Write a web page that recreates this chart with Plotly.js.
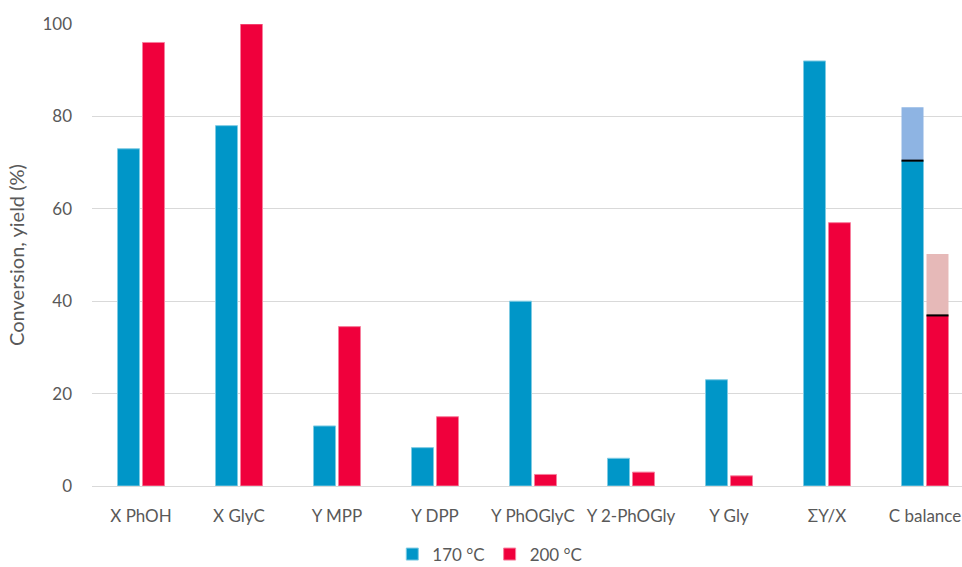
<!DOCTYPE html>
<html>
<head>
<meta charset="utf-8">
<script src="https://cdn.plot.ly/plotly-3.0.1.min.js"></script>
<style>
  html, body { margin: 0; padding: 0; overflow: hidden; background: #fff; }
  #chart { width: 980px; height: 567px; }
</style>
</head>
<body>
<div id="chart"></div>
<script>
// Categories along the x axis
const categories = ["X PhOH", "X GlyC", "Y MPP", "Y DPP", "Y PhOGlyC", "Y 2-PhOGly", "Y Gly", "ΣY/X", "C balance"];

// Conversion / yield (%) at each temperature
const values170 = [73, 78, 13, 8.3, 40, 6, 23, 92, 70.4];
const values200 = [96, 100, 34.5, 15, 2.5, 3, 2.2, 57, 36.9];

// Extra carbon on top of the C balance bars
const balanceCategory = ["C balance"];
const balanceExtra170 = [11.6];
const balanceExtra200 = [13.3];

const seriesNames = ["170 °C", "200 °C"];

const blue = "#0096C8";
const red = "#F0003C";
const lightBlue = "#8EB4E3";
const lightRed = "#E6B9B8";

const markerLine = (c) => ({ color: c, width: 1 });

const traces = [
  {
    type: "bar", name: seriesNames[0], x: categories, y: values170,
    offsetgroup: "a", marker: { color: blue, line: markerLine("#7fcbe3") }
  },
  {
    type: "bar", name: seriesNames[1], x: categories, y: values200,
    offsetgroup: "b", marker: { color: red, line: markerLine("#f77f9d") }
  },
  {
    type: "bar", x: balanceCategory, y: balanceExtra170,
    base: [values170[8]], offsetgroup: "a", showlegend: false,
    marker: { color: lightBlue, line: { width: 0 } }
  },
  {
    type: "bar", x: balanceCategory, y: balanceExtra200,
    base: [values200[8]], offsetgroup: "b", showlegend: false,
    marker: { color: lightRed, line: { width: 0 } }
  },
  // thin dark separators at the top of the measured part
  {
    type: "bar", x: balanceCategory, y: [0.45],
    base: [values170[8] - 0.2], offsetgroup: "a", showlegend: false,
    marker: { color: "#000", line: { width: 0 } }
  },
  {
    type: "bar", x: balanceCategory, y: [0.45],
    base: [values200[8] - 0.2], offsetgroup: "b", showlegend: false,
    marker: { color: "#000", line: { width: 0 } }
  }
];

const font = { family: "Lato, 'Open Sans', sans-serif", size: 16, color: "#595959" };

const layout = {
  width: 980,
  height: 567,
  margin: { l: 92, r: 6, t: 24, b: 81, autoexpand: false },
  paper_bgcolor: "#fff",
  plot_bgcolor: "#fff",
  font: font,
  barmode: "group",
  bargap: 0.49,
  bargroupgap: 0.12,
  showlegend: true,
  legend: {
    orientation: "h",
    x: 0.451, xanchor: "center",
    yref: "container",
    y: 0.022, yanchor: "middle",
    font: { family: font.family, size: 17, color: font.color },
    itemwidth: 30,
    traceorder: "normal"
  },
  xaxis: {
    type: "category",
    categoryorder: "array",
    categoryarray: categories,
    showgrid: false,
    showline: true,
    linecolor: "#d9d9d9",
    linewidth: 1,
    ticks: "",
    ticklabelstandoff: 15,
    tickfont: { family: font.family, size: 17, color: font.color }
  },
  yaxis: {
    range: [0, 100],
    dtick: 20,
    showgrid: true,
    gridcolor: "#d9d9d9",
    gridwidth: 1,
    zeroline: false,
    showline: false,
    ticks: "",
    ticklabelstandoff: 19,
    tickfont: { family: font.family, size: 17, color: font.color },
    title: { text: "Conversion, yield (%)", font: { family: font.family, size: 20, color: font.color }, standoff: 12 }
  }
};

Plotly.newPlot("chart", traces, layout, { displayModeBar: false, staticPlot: true });
</script>
</body>
</html>
